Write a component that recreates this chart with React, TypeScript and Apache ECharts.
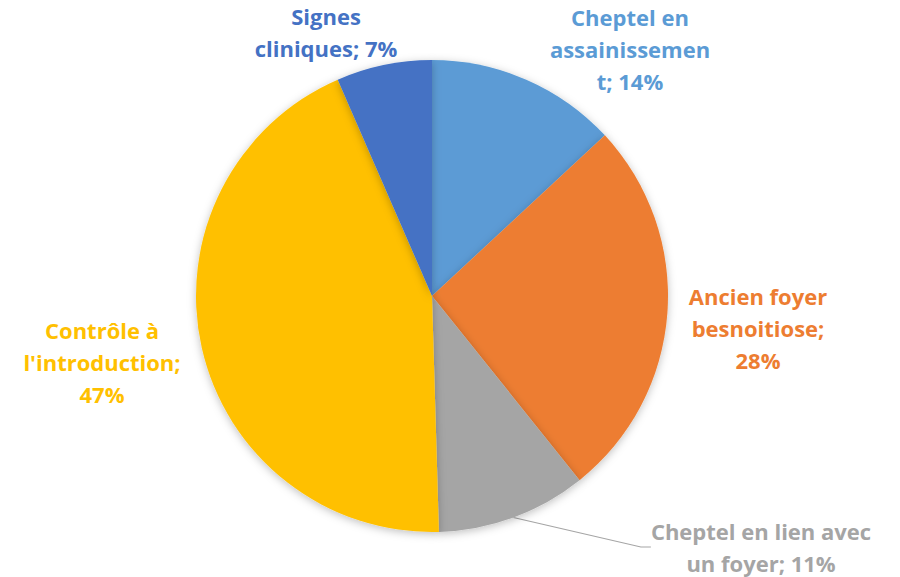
import React, { useEffect, useRef } from "react";
import * as echarts from "echarts";

const categories = [
  "Cheptel en assainissement",
  "Ancien foyer besnoitiose",
  "Cheptel en lien avec un foyer",
  "Contrôle à l'introduction",
  "Signes cliniques",
];
const values = [14, 28, 11, 47, 7];
const colors = ["#5B9BD5", "#ED7D31", "#A5A5A5", "#FFC000", "#4472C4"];
// Wrapped label texts as shown in the chart
const labelTexts = [
  "Cheptel en\nassainissemen\nt; 14%",
  "Ancien foyer\nbesnoitiose;\n28%",
  "Cheptel en lien avec\nun foyer; 11%",
  "Contrôle à\nl'introduction;\n47%",
  "Signes\ncliniques; 7%",
];
const labelCenters = [
  [630, 49],
  [758, 328],
  [761, 547],
  [102, 362],
  [326, 32],
];

export default function App() {
  const ref = useRef<HTMLDivElement>(null);
  useEffect(() => {
    const chart = echarts.init(ref.current!, null, { renderer: "svg" });
    chart.setOption({
      animation: false,
      backgroundColor: "#ffffff",
      series: [
        {
          type: "pie",
          center: [432, 296],
          radius: 236,
          startAngle: 90,
          clockwise: true,
          data: categories.map((name, i) => ({
            name,
            value: values[i],
            itemStyle: { color: colors[i] },
            label: { color: colors[i] },
            labelLine: { show: i === 2, lineStyle: { color: "#A5A5A5", width: 1.2 } },
          })),
          itemStyle: {
            borderWidth: 0,
            shadowBlur: 8,
            shadowColor: "rgba(0,0,0,0.25)",
            shadowOffsetY: 2,
          },
          label: {
            show: true,
            position: "outside",
            formatter: (p: any) => labelTexts[p.dataIndex],
            fontFamily: "Open Sans",
            fontWeight: "bold",
            fontSize: 22,
            lineHeight: 32,
            align: "center",
            overflow: "none",
          },
          labelLine: { length: 20, length2: 10 },
          labelLayout: (p: any) => {
            const c = labelCenters[p.dataIndex];
            return { x: c[0], y: c[1], align: "center", verticalAlign: "middle" };
          },
          emphasis: { disabled: true },
        },
      ],
    });
    return () => chart.dispose();
  }, []);
  return <div ref={ref} style={{ width: 900, height: 577, position: "absolute", left: 0, top: 0 }} />;
}
